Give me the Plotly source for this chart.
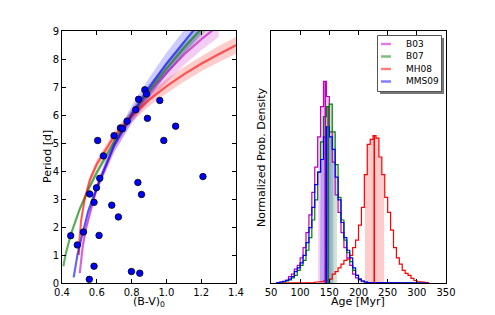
import plotly.graph_objects as go

W, H = 495, 315
OFF = 8  # page body margin

# ---------------- data: left panel ----------------
star_bv = [0.45, 0.488, 0.523, 0.559, 0.584, 0.598, 0.617, 0.613, 0.605, 0.638, 0.584,
           0.557, 0.686, 0.699, 0.724, 0.736, 0.747, 0.774, 0.824, 0.840, 0.836, 0.857,
           0.876, 0.886, 0.891, 0.799, 0.847, 0.962, 0.985, 1.053, 1.21]
star_period = [1.69, 1.36, 1.82, 3.18, 2.88, 3.40, 3.74, 1.70, 5.09, 4.54, 0.60,
               0.13, 2.78, 5.26, 2.36, 5.54, 5.51, 5.78, 6.19, 6.56, 3.59, 3.16,
               6.90, 6.75, 5.88, 0.41, 0.35, 6.52, 5.09, 5.60, 3.80]

b03_bv = [0.502, 0.51, 0.52, 0.54, 0.57, 0.6, 0.7, 0.8, 0.9, 1.0, 1.1, 1.2, 1.3]
b03_p = [0.35, 0.9, 1.35, 2.0, 2.75, 3.4, 4.9, 5.95, 6.8, 7.5, 8.15, 8.7, 9.2]
b03_err = [0.02, 0.04, 0.06, 0.09, 0.12, 0.15, 0.22, 0.27, 0.31, 0.34, 0.37, 0.39, 0.41]

b07_bv = [0.408, 0.42, 0.45, 0.5, 0.55, 0.6, 0.7, 0.8, 0.9, 1.0, 1.1, 1.2, 1.25]
b07_p = [0.6, 1.0, 1.72, 2.61, 3.33, 3.95, 5.04, 6.0, 6.86, 7.65, 8.39, 9.09, 9.43]
b07_err = [0.02, 0.03, 0.05, 0.08, 0.1, 0.12, 0.15, 0.18, 0.21, 0.23, 0.25, 0.27, 0.28]

mh08_bv = [0.497, 0.5, 0.51, 0.53, 0.56, 0.6, 0.7, 0.8, 0.9, 1.0, 1.1, 1.2, 1.3, 1.4]
mh08_p = [1.0, 1.5, 2.24, 2.98, 3.68, 4.25, 5.24, 5.96, 6.54, 7.02, 7.45, 7.83, 8.17, 8.49]
mh08_err = [0.04, 0.05, 0.08, 0.1, 0.13, 0.15, 0.18, 0.21, 0.23, 0.25, 0.26, 0.27, 0.29, 0.3]

mms09_bv = [0.467, 0.48, 0.49, 0.52, 0.55, 0.6, 0.7, 0.8, 0.9, 1.0, 1.1, 1.15, 1.2]
mms09_p = [0.2, 0.75, 1.05, 1.8, 2.55, 3.4, 4.93, 6.02, 6.97, 7.83, 8.62, 9.0, 9.36]
mms09_err = [0.01, 0.04, 0.05, 0.09, 0.13, 0.17, 0.25, 0.3, 0.35, 0.39, 0.43, 0.45, 0.47]

# ---------------- data: right panel ----------------
bin_edges = list(range(60, 325, 5))   # 53 edges -> 52 bins (Myr)

b03_hist = [0, 0.003, 0.006, 0.012, 0.025, 0.035, 0.055, 0.07, 0.1, 0.14, 0.2, 0.27, 0.36,
            0.46, 0.58, 0.70, 0.80, 0.74, 0.6, 0.48, 0.35, 0.28, 0.2, 0.14, 0.1, 0.07,
            0.035, 0.02, 0.012, 0.006, 0.003] + [0] * 21
b07_hist = [0, 0.002, 0.004, 0.008, 0.012, 0.02, 0.03, 0.05, 0.07, 0.09, 0.13, 0.18, 0.25,
            0.33, 0.44, 0.56, 0.66, 0.70, 0.71, 0.6, 0.47, 0.34, 0.25, 0.17, 0.12, 0.085,
            0.05, 0.03, 0.015, 0.008, 0.004, 0.002] + [0] * 20
mms09_hist = [0.002, 0.004, 0.007, 0.01, 0.015, 0.025, 0.045, 0.06, 0.08, 0.11, 0.16, 0.22,
              0.3, 0.39, 0.44, 0.49, 0.58, 0.62, 0.58, 0.53, 0.42, 0.33, 0.24, 0.18, 0.13,
              0.1, 0.06, 0.03, 0.015, 0.008, 0.004, 0.002, 0.002, 0.001] + [0] * 18
mh08_hist = [0] * 12 + [0.002, 0.003, 0.004, 0.006, 0.008, 0.01, 0.015, 0.035, 0.045, 0.06,
                        0.075, 0.09, 0.095, 0.11, 0.14, 0.17, 0.23, 0.3, 0.43, 0.55, 0.57,
                        0.585, 0.575, 0.5, 0.43, 0.34, 0.28, 0.21, 0.14, 0.1, 0.075, 0.05,
                        0.038, 0.03, 0.018, 0.01, 0.006, 0.004, 0.003, 0.002]

model_names = ["B03", "B07", "MH08", "MMS09"]
age_median = [143, 148, 227, 145]
age_lo = [131, 141, 211, 134]
age_hi = [152, 163, 244, 157]

# ---------------- styling ----------------
base_rgb = {"B03": (191, 0, 191), "B07": (0, 128, 0), "MH08": (255, 0, 0), "MMS09": (0, 0, 255)}


def rgba(name, a):
    r, g, b = base_rgb[name]
    return f"rgba({r},{g},{b},{a})"


FONT = "DejaVu Sans"
FW, FH = W - OFF, H - OFF
ML, MR, MT, MB = 62 - OFF, 49, 31 - OFF, 32
PW, PH = FW - ML - MR, FH - MT - MB

fig = go.Figure()

curves = {
    "B03": (b03_bv, b03_p, b03_err),
    "B07": (b07_bv, b07_p, b07_err),
    "MH08": (mh08_bv, mh08_p, mh08_err),
    "MMS09": (mms09_bv, mms09_p, mms09_err),
}
for name in ["B03", "B07", "MH08", "MMS09"]:
    x, y, e = curves[name]
    up = [a + b for a, b in zip(y, e)]
    lo = [a - b for a, b in zip(y, e)]
    fig.add_trace(go.Scatter(x=x + x[::-1], y=up + lo[::-1], fill="toself",
                             fillcolor=rgba(name, 0.2), line=dict(width=0),
                             mode="lines", hoverinfo="skip", showlegend=False,
                             xaxis="x", yaxis="y"))
for name in ["B03", "B07", "MH08", "MMS09"]:
    x, y, e = curves[name]
    fig.add_trace(go.Scatter(x=x, y=y, mode="lines", line=dict(color=rgba(name, 0.6), width=2.2),
                             showlegend=False, xaxis="x", yaxis="y"))

fig.add_trace(go.Scatter(x=star_bv, y=star_period, mode="markers",
                         marker=dict(color="#0000ff", size=6.5, line=dict(color="black", width=0.8)),
                         showlegend=False, xaxis="x", yaxis="y"))

hists = {"B03": b03_hist, "B07": b07_hist, "MH08": mh08_hist, "MMS09": mms09_hist}


def hist_value(h, a):
    for i in range(len(h)):
        if bin_edges[i] <= a < bin_edges[i + 1]:
            return h[i]
    return 0


def step_path(h):
    xs, ys = [bin_edges[0]], [0]
    for i, v in enumerate(h):
        xs += [bin_edges[i], bin_edges[i + 1]]
        ys += [v, v]
    xs.append(bin_edges[-1]); ys.append(0)
    return xs, ys


def interval_path(h, lo, hi):
    xs, ys = [lo, lo], [0, hist_value(h, lo)]
    for i in range(1, len(bin_edges) - 1):
        e = bin_edges[i]
        if lo < e < hi:
            xs += [e, e]
            ys += [h[i - 1], h[i]]
    xs += [hi, hi]
    ys += [hist_value(h, hi - 1e-6), 0]
    return xs, ys


for k, name in enumerate(model_names):
    xs, ys = interval_path(hists[name], age_lo[k], age_hi[k])
    fig.add_trace(go.Scatter(x=xs, y=ys, fill="toself", fillcolor=rgba(name, 0.2),
                             line=dict(width=0), mode="lines", hoverinfo="skip",
                             showlegend=False, xaxis="x2", yaxis="y2"))

for name in ["B03", "B07", "MH08", "MMS09"]:
    xs, ys = step_path(hists[name])
    fig.add_trace(go.Scatter(x=xs, y=ys, mode="lines", line=dict(color=rgba(name, 1), width=1.2),
                             showlegend=False, xaxis="x2", yaxis="y2"))

for k, name in enumerate(model_names):
    m = age_median[k]
    fig.add_trace(go.Scatter(x=[m, m], y=[0, hist_value(hists[name], m)], mode="lines",
                             line=dict(color=rgba(name, 1), width=1.5),
                             showlegend=False, xaxis="x2", yaxis="y2"))


def px(v):
    return (v - 62) / PW


def py(v):
    return (283 - v) / PH


axis_common = dict(showline=True, linecolor="black", linewidth=1, mirror="allticks",
                   ticks="inside", ticklen=4, tickcolor="black", showgrid=False, zeroline=False,
                   automargin=False,
                   tickfont=dict(family=FONT, size=10, color="black"))

fig.update_layout(
    width=FW, height=FH, margin=dict(l=ML, r=MR, t=MT, b=MB, autoexpand=False),
    paper_bgcolor="white", plot_bgcolor="white", showlegend=False,
    xaxis=dict(domain=[px(62), px(236)], range=[0.4, 1.4], tickvals=[0.4, 0.6, 0.8, 1.0, 1.2, 1.4],
               tickformat=".1f", anchor="y", **axis_common),
    yaxis=dict(domain=[0, 1], range=[0, 9], tickvals=list(range(10)), anchor="x",
               **axis_common),
    xaxis2=dict(domain=[px(271), px(446)], range=[50, 350], tickvals=[50, 100, 150, 200, 250, 300, 350],
                anchor="y2", **axis_common),
    yaxis2=dict(domain=[0, 1], range=[0, 1], anchor="x2", showticklabels=False,
                **{**axis_common, "ticks": ""}),
)

ann = [
    dict(x=px(149), y=py(302), text="(B-V)<sub>0</sub>", font=dict(size=11)),
    dict(x=px(358), y=py(301), text="Age [Myr]", font=dict(size=11)),
    dict(x=px(47), y=py(157), text="Period [d]", textangle=-90, font=dict(size=11)),
    dict(x=px(261), y=py(157), text="Normalized Prob. Density", textangle=-90, font=dict(size=11)),
]
shapes = []
shapes.append(dict(type="rect", xref="paper", yref="paper", x0=px(380), x1=px(444), y0=py(94), y1=py(38),
                   fillcolor="#777777", line=dict(width=0), layer="above"))
shapes.append(dict(type="rect", xref="paper", yref="paper", x0=px(377.5), x1=px(441.5), y0=py(91.5), y1=py(35.5),
                   fillcolor="white", line=dict(color="#555555", width=1), layer="above"))
leg_y = [44, 56.5, 69, 81.5]
for name, yy in zip(model_names, leg_y):
    shapes.append(dict(type="line", xref="paper", yref="paper", x0=px(381), x1=px(391), y0=py(yy), y1=py(yy),
                       line=dict(color=rgba(name, 0.5), width=2.5), layer="above"))
    ann.append(dict(x=px(404), y=py(yy), text=name, xanchor="left", font=dict(size=9)))

for a in ann:
    a.setdefault("xanchor", "center")
    a.update(xref="paper", yref="paper", yanchor="middle", showarrow=False)
    a["font"] = dict(family=FONT, color="black", size=a["font"]["size"])

fig.update_layout(annotations=ann, shapes=shapes)
fig.write_html("out.html")
